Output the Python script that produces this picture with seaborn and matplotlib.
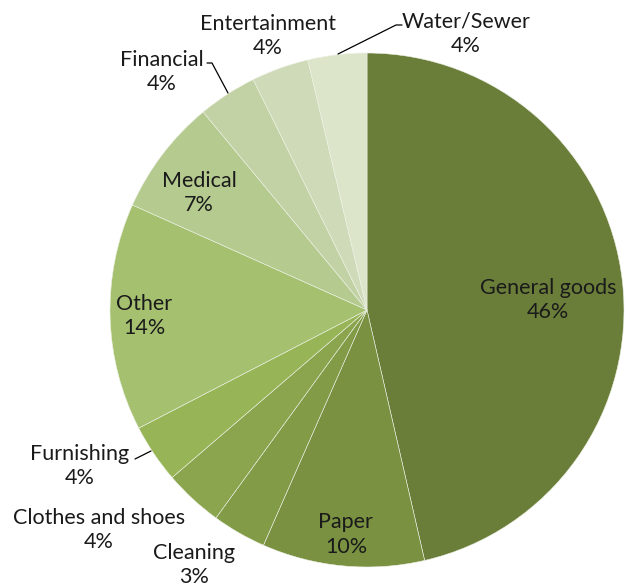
import matplotlib
matplotlib.use("Agg")
import matplotlib.pyplot as plt
import seaborn as sns

categories = ["General goods", "Paper", "Cleaning", "Clothes and shoes", "Furnishing",
              "Other", "Medical", "Financial", "Entertainment", "Water/Sewer"]
values = [46.4, 10.2, 3.4, 3.7, 3.7, 14.3, 7.3, 3.7, 3.6, 3.7]
pct_labels = ["46%", "10%", "3%", "4%", "4%", "14%", "7%", "4%", "4%", "4%"]

colors = ["#6A7E3A", "#7A9141", "#829B47", "#8AA54D", "#97B456",
          "#A5C170", "#B5CA8F", "#C2D2A4", "#CEDAB8", "#DCE5CA"]

# label layout (data coords, pie radius = 1)
label_pos = [(0.704, 0.039), (-0.082, -0.872), (-0.673, -0.992), (-1.043, -0.856),
             (-1.117, -0.607), (-0.868, -0.023), (-0.654, 0.455), (-0.798, 0.926),
             (-0.385, 1.066), (0.385, 1.074)]

sns.set_theme(style="white")
plt.rcParams["font.family"] = ["Lato", "DejaVu Sans"]

W, H = 627, 587
fig = plt.figure(figsize=(W / 100, H / 100), dpi=100)
ax = fig.add_axes([0, 0, 1, 1])
cx, cy, R = 367, 310, 257

ax.pie(values, colors=colors, startangle=90, counterclock=False, radius=1,
       wedgeprops=dict(edgecolor="#eef2e6", linewidth=0.4))

for cat, p, (x, y) in zip(categories, pct_labels, label_pos):
    ax.text(x, y, f"{cat}\n{p}", ha="center", va="center", fontsize=15.5,
            color="#1a1a1a", linespacing=1.3)

def px(xp, yp):
    return ((xp - cx) / R, (cy - yp) / R)

leaders = [
    [(135, 459), (151, 451)],
    [(207, 63), (212, 63), (228, 93)],
    [(402, 25), (396, 25), (338, 54)],
]
for pts in leaders:
    xs, ys = zip(*[px(a, b) for a, b in pts])
    ax.plot(xs, ys, color="black", linewidth=0.9)

ax.set_xlim((0 - cx) / R, (W - cx) / R)
ax.set_ylim((cy - H) / R, cy / R)
ax.set_aspect("auto")
ax.axis("off")

fig.savefig("out.png", dpi=100, facecolor="white")
